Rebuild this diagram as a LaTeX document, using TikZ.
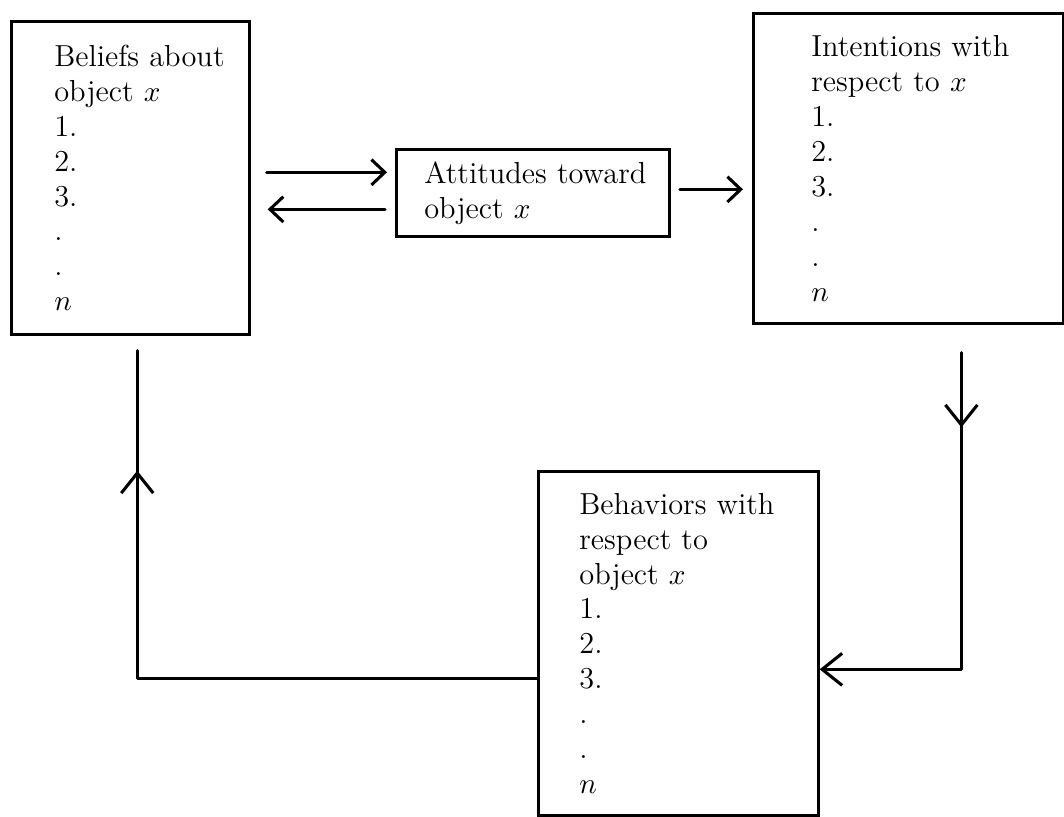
\documentclass[tikz,border=0pt]{standalone}
\usetikzlibrary{arrows.meta,decorations.markings}

\tikzset{
  smalltip/.tip={Straight Barb[length=5pt,width=9.5pt]},
  bigtip/.tip={Straight Barb[length=7.5pt,width=12pt]},
  box/.style={draw, line width=1pt, anchor=north west, align=left,
    inner ysep=2pt, font=\fontsize{11.4}{13.1}\selectfont},
  conn/.style={line width=1.15pt, line cap=round, line join=round},
  midtip/.style={postaction={decorate, decoration={markings,
    mark=at position #1 with {\arrow{bigtip}}}}}
}

\begin{document}
\begin{tikzpicture}[x=0.375pt, y=-0.375pt]
  \useasboundingbox (0,0) rectangle (1064,816);

  % the four boxes (long first lines kept whole with \mbox)
  \node[box, inner xsep=16.1pt, text width=57pt, minimum width=89.25pt,
        minimum height=117.4pt] (bel) at (10,20)
    {\mbox{Beliefs about}\\ object $x$\\ 1.\\ 2.\\ 3.\\ .\\ .\\ $n$};
  \node[box, inner xsep=10.5pt, text width=81.4pt, minimum width=102.4pt,
        minimum height=32.6pt] (att) at (395,148)
    {\mbox{Attitudes toward}\\ object $x$};
  \node[box, inner xsep=21.75pt, text width=72.75pt, minimum width=116.25pt,
        minimum height=116.25pt] (int) at (752,12)
    {\mbox{Intentions with}\\ respect to $x$\\ 1.\\ 2.\\ 3.\\ .\\ .\\ $n$};
  \node[box, inner xsep=15.4pt, text width=74.2pt, minimum width=105pt,
        minimum height=129pt] (beh) at (537,470)
    {\mbox{Behaviors with}\\ respect to\\ object $x$\\ 1.\\ 2.\\ 3.\\ .\\ .\\ $n$};

  % beliefs <-> attitudes -> intentions
  \coordinate (a1) at ([yshift=7.7pt]att.west);
  \coordinate (a2) at ([yshift=-6.2pt]att.west);
  \coordinate (a3) at ([yshift=1.3pt]att.east);
  \draw[conn, -smalltip, shorten <=6pt, shorten >=3pt] (bel.east |- a1) -- (a1);
  \draw[conn, -smalltip, shorten <=3.75pt, shorten >=6.4pt] (a2) -- (bel.east |- a2);
  \draw[conn, -smalltip, shorten <=3.4pt, shorten >=3.4pt] (a3) -- (int.west |- a3);

  % intentions -> behaviors
  \coordinate (i1) at ([xshift=19.9pt, yshift=-10.5pt]int.south);
  \coordinate (b1) at ([yshift=-9.75pt]beh.east);
  \draw[conn, -bigtip, midtip=28pt] (i1) |- (b1);

  % behaviors -> beliefs
  \coordinate (b2) at ([yshift=-13.1pt]beh.west);
  \coordinate (l1) at ([xshift=2.6pt, yshift=-5.6pt]bel.south);
  \draw[conn, midtip=-45pt] (b2) -| (l1);
\end{tikzpicture}
\end{document}
